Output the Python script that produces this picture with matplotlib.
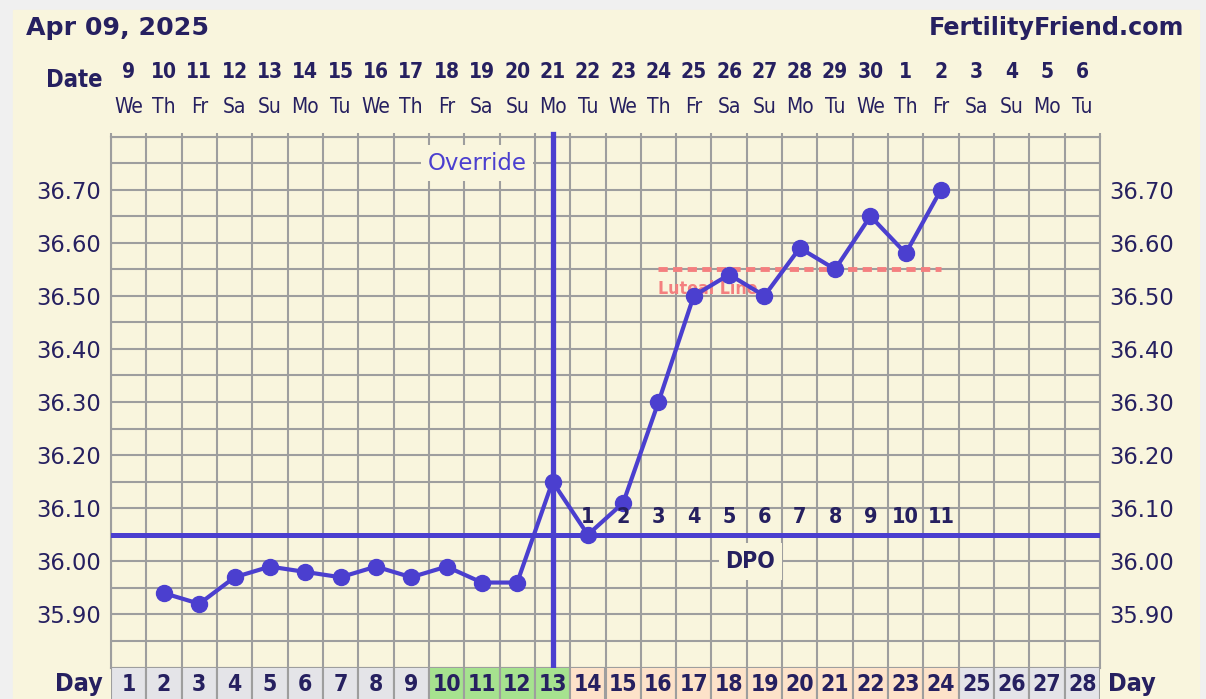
import numpy as np
import matplotlib
matplotlib.use('Agg')
import matplotlib.pyplot as plt
import matplotlib.patches as mpatches

# chart values
cycle_days = list(range(1, 29))
dates = [9, 10, 11, 12, 13, 14, 15, 16, 17, 18, 19, 20, 21, 22, 23, 24, 25, 26, 27, 28,
         29, 30, 1, 2, 3, 4, 5, 6]
weekdays = ['We', 'Th', 'Fr', 'Sa', 'Su', 'Mo', 'Tu'] * 4
temps = [np.nan, 35.94, 35.92, 35.97, 35.99, 35.98, 35.97, 35.99, 35.97, 35.99,
         35.96, 35.96, 36.15, 36.05, 36.11, 36.30, 36.50, 36.54, 36.50, 36.59,
         36.55, 36.65, 36.58, 36.70, np.nan, np.nan, np.nan, np.nan]
coverline = 36.05
override_day = 13
luteal_level = 36.55
luteal_days = [16, 24]
dpo_days = list(range(14, 25))
dpo_labels = list(range(1, 12))
fertile_days = [10, 11, 12, 13]
luteal_phase_days = list(range(14, 25))
y_labels = [35.90, 36.00, 36.10, 36.20, 36.30, 36.40, 36.50, 36.60, 36.70]
y_min, y_max = 35.80, 36.80

# colours
outer = '#f0f0f0'
cream = '#f9f5dd'
navy = '#262060'
purple = '#4b3fcf'
gridc = '#9e9e9e'
pink = '#f47f7f'
cell_gray = '#e4e4e8'
cell_green = '#a6e28f'
cell_peach = '#fde2c9'

W, H = 1206, 699


def fx(px):
    return px / W


def fy(py):
    return 1 - py / H


fig = plt.figure(figsize=(W / 100, H / 100), dpi=100, facecolor=outer)
fig.patches.append(mpatches.Rectangle((fx(13), 0), fx(1199) - fx(13), fy(10),
                                      transform=fig.transFigure, color=cream, zorder=-5))

top_px, bot_px = 136.5, 667.5
ax = fig.add_axes([fx(111), fy(bot_px), fx(1100) - fx(111), fy(top_px) - fy(bot_px)])
ax.set_facecolor(cream)
ax.set_xlim(0.5, 28.5)
ax.set_ylim(y_min, y_max)
ax.set_axisbelow(True)


def ax_y(py):
    return (bot_px - py) / (bot_px - top_px)


narrow = dict(family='DejaVu Sans', stretch='condensed')

# grid
ax.set_xticks(np.arange(0.5, 28.6, 1))
ax.set_yticks(y_labels)
ax.set_yticklabels(['%.2f' % v for v in y_labels])
ax.set_yticks(np.arange(y_min, y_max + 0.001, 0.05), minor=True)
ax.xaxis.grid(True, which='major', color=gridc, lw=1.5)
ax.yaxis.grid(True, which='both', color=gridc, lw=1.5)
ax.tick_params(axis='x', top=True, bottom=False, length=3, width=1.5, color=gridc,
               labelbottom=False)
ax.tick_params(axis='y', which='both', length=0, labelleft=True, labelright=True,
               labelsize=16.3, labelcolor=navy, pad=7)
for s in ax.spines.values():
    s.set_color(gridc)
    s.set_linewidth(1.5)

# markers of the cycle
ax.axhline(coverline, color=purple, lw=3.6, zorder=3)
ax.axvline(override_day, ymax=1.005, color=purple, lw=3.8, zorder=3, clip_on=False)
ax.plot(luteal_days, [luteal_level] * len(luteal_days), color=pink, lw=3.5,
        ls=(0, (1.9, 1.1)), zorder=4, solid_capstyle='butt')
ax.text(luteal_days[0], 36.513, 'Luteal Line', color=pink, fontsize=12.8,
        fontweight='bold', ha='left', va='center', zorder=4, **narrow)
ax.plot(cycle_days, temps, '-o', color=purple, lw=3, ms=11.5, zorder=6)

ax.text(10.86, 36.75, 'Override', color=purple, fontsize=16.5, ha='center', va='center',
        zorder=4, bbox=dict(boxstyle='square,pad=0.3', fc=cream, ec='none'))
for d, n in zip(dpo_days, dpo_labels):
    ax.text(d, 36.083, str(n), color=navy, fontsize=15.5, fontweight='bold',
            ha='center', va='center', zorder=7, **narrow)
ax.text(18.6, 35.999, 'DPO', color=navy, fontsize=16.5, fontweight='bold', ha='center',
        va='center', zorder=4, bbox=dict(boxstyle='square,pad=0.3', fc=cream, ec='none'),
        **narrow)

# header
fig.text(fx(26), fy(28), 'Apr 09, 2025', color=navy, fontsize=18.2, fontweight='bold',
         ha='left', va='center')
fig.text(fx(1184), fy(28), 'FertilityFriend.com', color=navy, fontsize=17.2,
         fontweight='bold', ha='right', va='center')
fig.text(fx(103), fy(80), 'Date', color=navy, fontsize=17, fontweight='bold',
         ha='right', va='center', **narrow)
xt = ax.get_xaxis_transform()
for d, dt, wd in zip(cycle_days, dates, weekdays):
    ax.text(d, ax_y(72), str(dt), color=navy, fontsize=15, fontweight='bold',
            ha='center', va='center', transform=xt, **narrow)
    ax.text(d, ax_y(107), wd, color=navy, fontsize=15, ha='center', va='center',
            transform=xt, **narrow)

# day row
axd = fig.add_axes([fx(111), 0, fx(1100) - fx(111), fy(bot_px)])
axd.set_xlim(0.5, 28.5)
axd.set_ylim(0, 1)
axd.axis('off')
cell_colors = []
for d in cycle_days:
    if d in fertile_days:
        cell_colors.append(cell_green)
    elif d in luteal_phase_days:
        cell_colors.append(cell_peach)
    else:
        cell_colors.append(cell_gray)
axd.bar(cycle_days, 2, bottom=-0.5, width=1, color=cell_colors, edgecolor=gridc, lw=1.5)
for d in cycle_days:
    axd.text(d, 0.45, str(d), color=navy, fontsize=16.5, fontweight='bold',
             ha='center', va='center', **narrow)
fig.text(fx(103), fy(684), 'Day', color=navy, fontsize=18, fontweight='bold',
         ha='right', va='center', **narrow)
fig.text(fx(1108), fy(684), 'Day', color=navy, fontsize=18, fontweight='bold',
         ha='left', va='center', **narrow)

fig.savefig('out.png', dpi=100, facecolor=outer)
